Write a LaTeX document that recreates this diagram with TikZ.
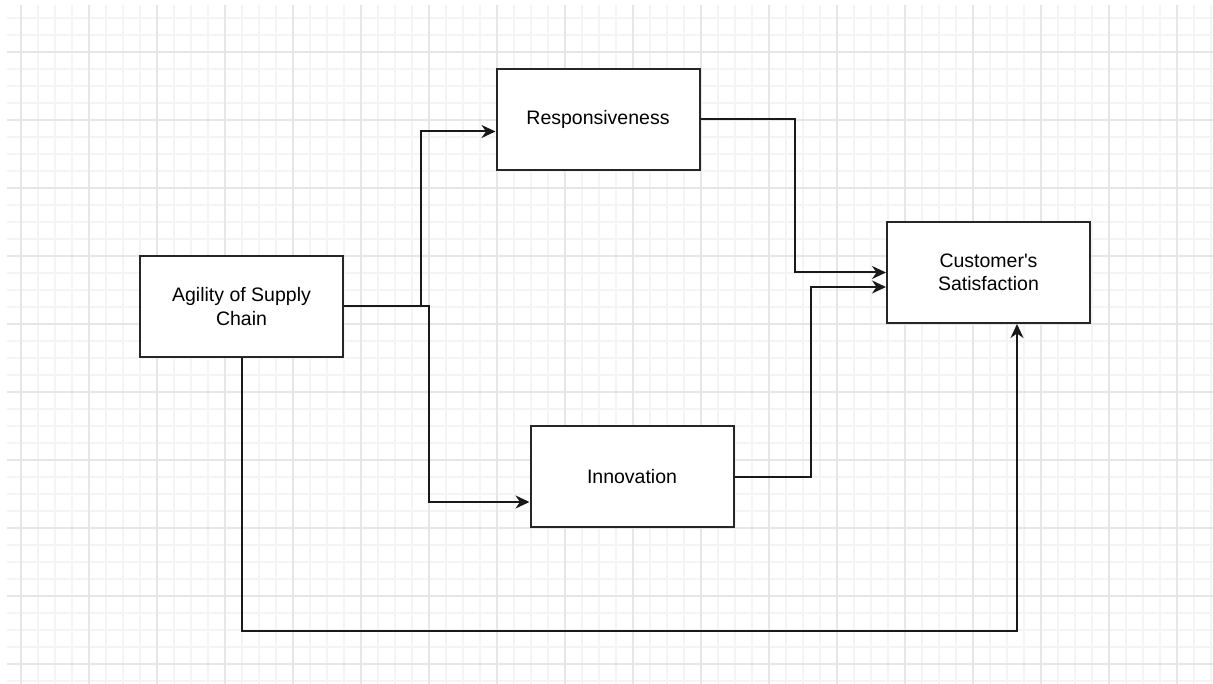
\documentclass[tikz,border=0pt]{standalone}
\usepackage{fontspec}
\setmainfont{Liberation Sans}
\usepackage{xcolor}
\usepackage{tikz}
\usetikzlibrary{arrows.meta}

\definecolor{gridminor}{HTML}{F4F4F4}
\definecolor{gridmajor}{HTML}{E6E6E6}

\begin{document}
\begin{tikzpicture}
  [
    x=1pt,y=-1pt,
    minor line/.style={draw=gridminor,line width=1.3pt},
    major line/.style={draw=gridmajor,line width=1.4pt},
    box/.style={rectangle,draw=black!85,fill=white,line width=2pt,inner sep=0pt,
      minimum width=203pt,minimum height=101pt,align=center,
      font=\fontsize{19.5}{23.5}\selectfont},
    flow/.style={draw=black!90,line width=2pt,-{Stealth[length=14pt,width=13pt,inset=4.5pt]}}
  ]
  \useasboundingbox (0,0) rectangle (1213,684);
  % background grid
  \foreach \gx in {21,38,...,1211} \draw[minor line] (\gx,5) -- (\gx,684);
  \foreach \gy in {18,35,...,681} \draw[minor line] (7,\gy) -- (1213,\gy);
  \foreach \gx in {21,89,...,1177} \draw[major line] (\gx,5) -- (\gx,684);
  \foreach \gy in {52,120,...,664} \draw[major line] (7,\gy) -- (1213,\gy);

  \node[box] (agility) at (241.5,306.5) {Agility of Supply\\Chain};
  \node[box] (responsiveness) at (598,119.5) {Responsiveness};
  \node[box] (innovation) at (632,476.5) {Innovation};
  \node[box] (customer) at (988.5,272.5) {Customer\textquotesingle s\\Satisfaction};

  \draw[flow] (agility.east) -- ++(77,0) |- ([yshift=-12pt]responsiveness.west);
  \draw[flow] (agility.east) -- ++(85,0) |- ([yshift=-25.5pt]innovation.west);
  \draw[flow] (responsiveness.east) -- ++(94,0) |- ([yshift=0pt]customer.west);
  \draw[flow] (innovation.east) -- ++(76,0) |- ([yshift=-14.5pt]customer.west);
  \draw[flow] (agility.south) -- ++(0,273) -| ([xshift=28.5pt]customer.south);
\end{tikzpicture}
\end{document}
